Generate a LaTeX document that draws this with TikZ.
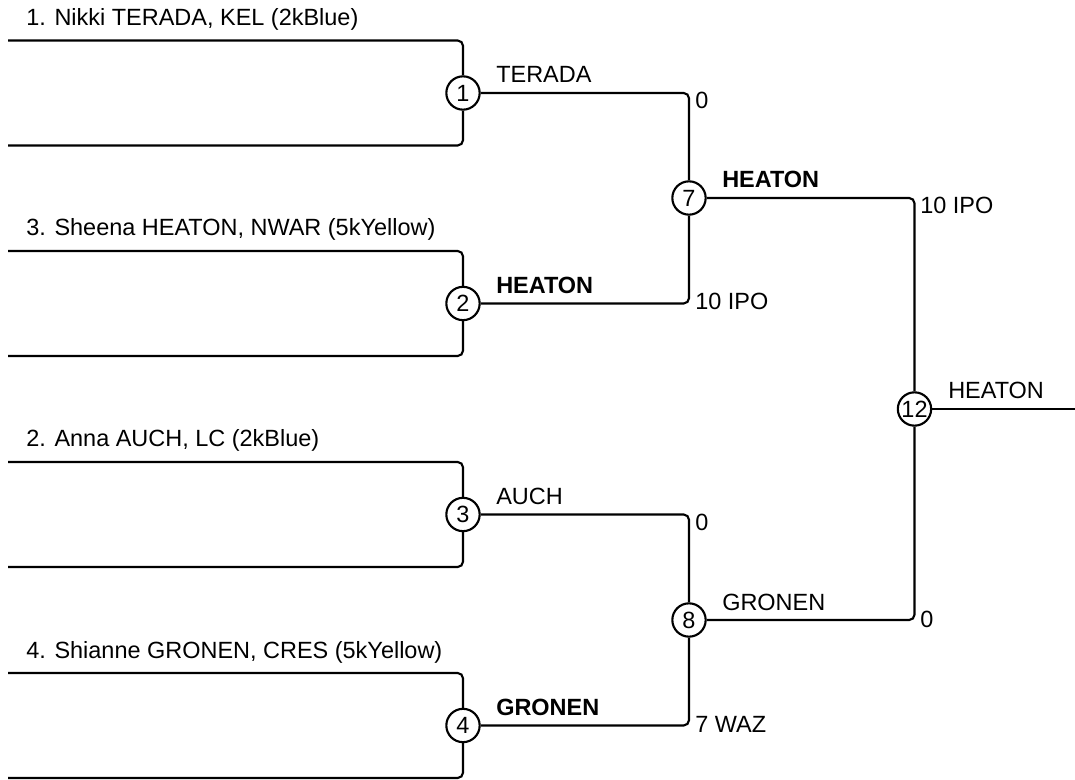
\documentclass[tikz,border=0pt]{standalone}
\usepackage{fontspec}
\setmainfont{Liberation Sans}

\begin{document}
\begin{tikzpicture}[
      x=0.75pt, y=-0.75pt,
      font=\fontsize{17.6}{20}\selectfont,
      line/.style={line width=1.6pt, rounded corners=4pt},
      game/.style={draw, circle, line width=1.6pt, minimum size=25pt, inner sep=0pt},
      lbl/.style={anchor=base west, inner sep=0pt}
    ]
    \useasboundingbox (0,0) rectangle (1075,780);

    % round 1
    \node[game] (g1) at (463,93) {1};
    \node[game] (g2) at (463,303.5) {2};
    \node[game] (g3) at (463,514.5) {3};
    \node[game] (g4) at (463,725.5) {4};
    % round 2 and final
    \node[game] (g7) at (689,198) {7};
    \node[game] (g8) at (689,620) {8};
    \node[game] (g12) at (914.5,409) {12};

    \coordinate (s1a) at (8,40.5);  \coordinate (s1b) at (8,145.5);
    \coordinate (s2a) at (8,251);   \coordinate (s2b) at (8,356);
    \coordinate (s3a) at (8,462);   \coordinate (s3b) at (8,567);
    \coordinate (s4a) at (8,673);   \coordinate (s4b) at (8,778);
    \coordinate (champ) at (1075,409);

    \node[lbl] (p1) at (26,25.5) {1. Nikki TERADA, KEL (2kBlue)};
    \node[lbl] (p3) at (26,236) {3. Sheena HEATON, NWAR (5kYellow)};
    \node[lbl] (p2) at (26,447) {2. Anna AUCH, LC (2kBlue)};
    \node[lbl] (p4) at (26,658) {4. Shianne GRONEN, CRES (5kYellow)};

    \draw[line] (s1a) -| (g1);  \draw[line] (s1b) -| (g1);
    \draw[line] (s2a) -| (g2);  \draw[line] (s2b) -| (g2);
    \draw[line] (s3a) -| (g3);  \draw[line] (s3b) -| (g3);
    \draw[line] (s4a) -| (g4);  \draw[line] (s4b) -| (g4);

    \draw[line] (g1) -| (g7);
    \draw[line] (g2) -| (g7);
    \draw[line] (g3) -| (g8);
    \draw[line] (g4) -| (g8);
    \draw[line] (g7) -| (g12);
    \draw[line] (g8) -| (g12);
    \draw[line] (g12) -- (champ);

    \node[lbl] (w1) at (496,83) {TERADA};
    \node[lbl] (w2) at (496,293.5) {\bfseries HEATON};
    \node[lbl] (w3) at (496,504.5) {AUCH};
    \node[lbl] (w4) at (496,715.5) {\bfseries GRONEN};
    \node[lbl] (w7) at (722,188) {\bfseries HEATON};
    \node[lbl] (w8) at (722,610) {GRONEN};
    \node[lbl] (w12) at (948,399) {HEATON};

    \node[lbl] (r1) at (695,109) {0};
    \node[lbl] (r2) at (695,309.5) {10 IPO};
    \node[lbl] (r3) at (695,530.5) {0};
    \node[lbl] (r4) at (695,732) {7 WAZ};
    \node[lbl] (r7) at (920,214) {10 IPO};
    \node[lbl] (r8) at (920,627) {0};
  \end{tikzpicture}
\end{document}
